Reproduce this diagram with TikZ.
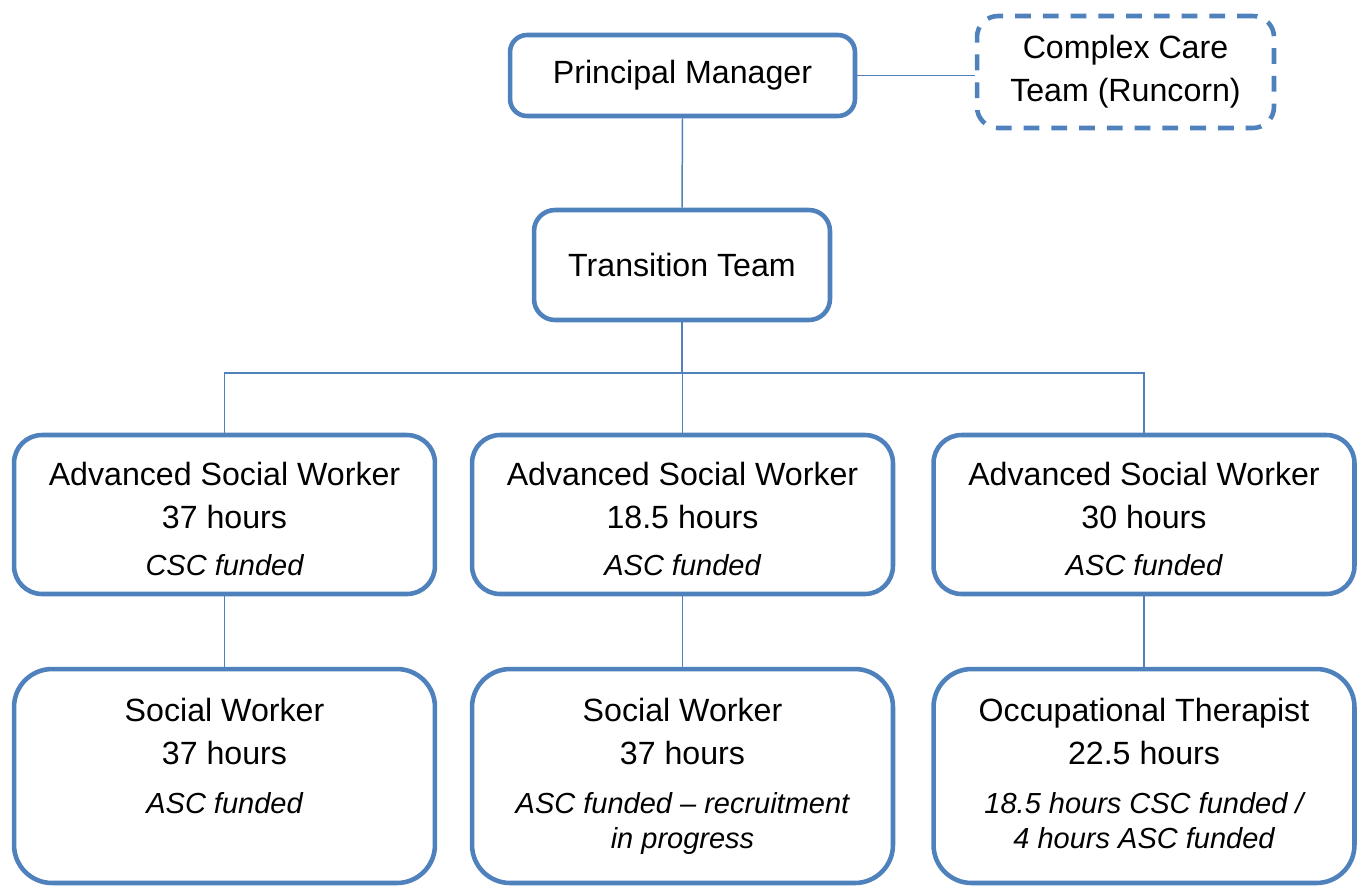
\documentclass[tikz,border=0pt]{standalone}
\usepackage{fontspec}
\setmainfont{Liberation Sans}
\usetikzlibrary{arrows.meta,calc,positioning}
\definecolor{boxblue}{HTML}{4F81BD}
\newcommand{\funding}[1]{{\fontsize{16.5}{20}\selectfont\itshape #1}}
\newcommand{\lowered}{\rule{0pt}{18.5pt}}
\tikzset{
  link/.style={draw=boxblue,line width=0.85pt},
  post/.style={draw=boxblue,line width=2.6pt,fill=white,align=center,inner sep=0pt,
               font=\fontsize{18.3}{24.4}\selectfont,text=black},
  headbox/.style={post,minimum width=6.9cm,minimum height=1.62cm,rounded corners=0.34cm},
  teambox/.style={post,minimum width=5.92cm,minimum height=2.2cm,rounded corners=0.42cm},
  outside/.style={teambox,minimum width=5.94cm,minimum height=2.24cm,
                  dash pattern=on 9pt off 6.8pt},
  rolebox/.style={post,minimum width=8.42cm,minimum height=3.18cm,rounded corners=0.56cm},
  staffbox/.style={post,minimum width=8.42cm,minimum height=4.28cm,rounded corners=0.76cm}
}

\begin{document}
\begin{tikzpicture}[x=0.02cm,y=-0.02cm]
  \useasboundingbox (0,0) rectangle (1366,887);
  \coordinate (bus) at (682,373);
  % management
  \node[headbox] (manager) at (682.5,75.5) {Principal Manager};
  \node[outside] (complex) at (1125.5,72) {Complex Care\\Team (Runcorn)};
  \node[teambox] (team) at (682,265) {Transition Team};
  % advanced social workers
  \node[rolebox] (asw1) at (224.5,514.5) {\lowered Advanced Social Worker\\37 hours\\[2.3pt]\funding{CSC funded}};
  \node[rolebox] (asw2) at (682.5,514.5) {\lowered Advanced Social Worker\\18.5 hours\\[2.3pt]\funding{ASC funded}};
  \node[rolebox] (asw3) at (1144,514.5) {\lowered Advanced Social Worker\\30 hours\\[2.3pt]\funding{ASC funded}};
  % staff under each one
  \node[staffbox] (sw1) at (224.5,776) {Social Worker\\37 hours\\[3.5pt]\funding{ASC funded}\\[-4.5pt]\funding{\vphantom{g}}};
  \node[staffbox] (sw2) at (682.5,776) {Social Worker\\37 hours\\[3.5pt]\funding{ASC funded \textendash{} recruitment}\\[-4.5pt]\funding{in progress}};
  \node[staffbox] (sw3) at (1144,776) {Occupational Therapist\\22.5 hours\\[3.5pt]\funding{18.5 hours CSC funded /}\\[-4.5pt]\funding{4 hours ASC funded\vphantom{g}}};
  % connectors
  \draw[link] (manager.east) -- (manager.east -| complex.west);
  \draw[link] (manager.south) -- (team.north);
  \draw[link] (team.south) -- (bus);
  \foreach \i in {1,2,3}{
    \draw[link] (asw\i.north) |- (bus);
    \draw[link] (asw\i.south) -- (sw\i.north);
  }
\end{tikzpicture}
\end{document}
